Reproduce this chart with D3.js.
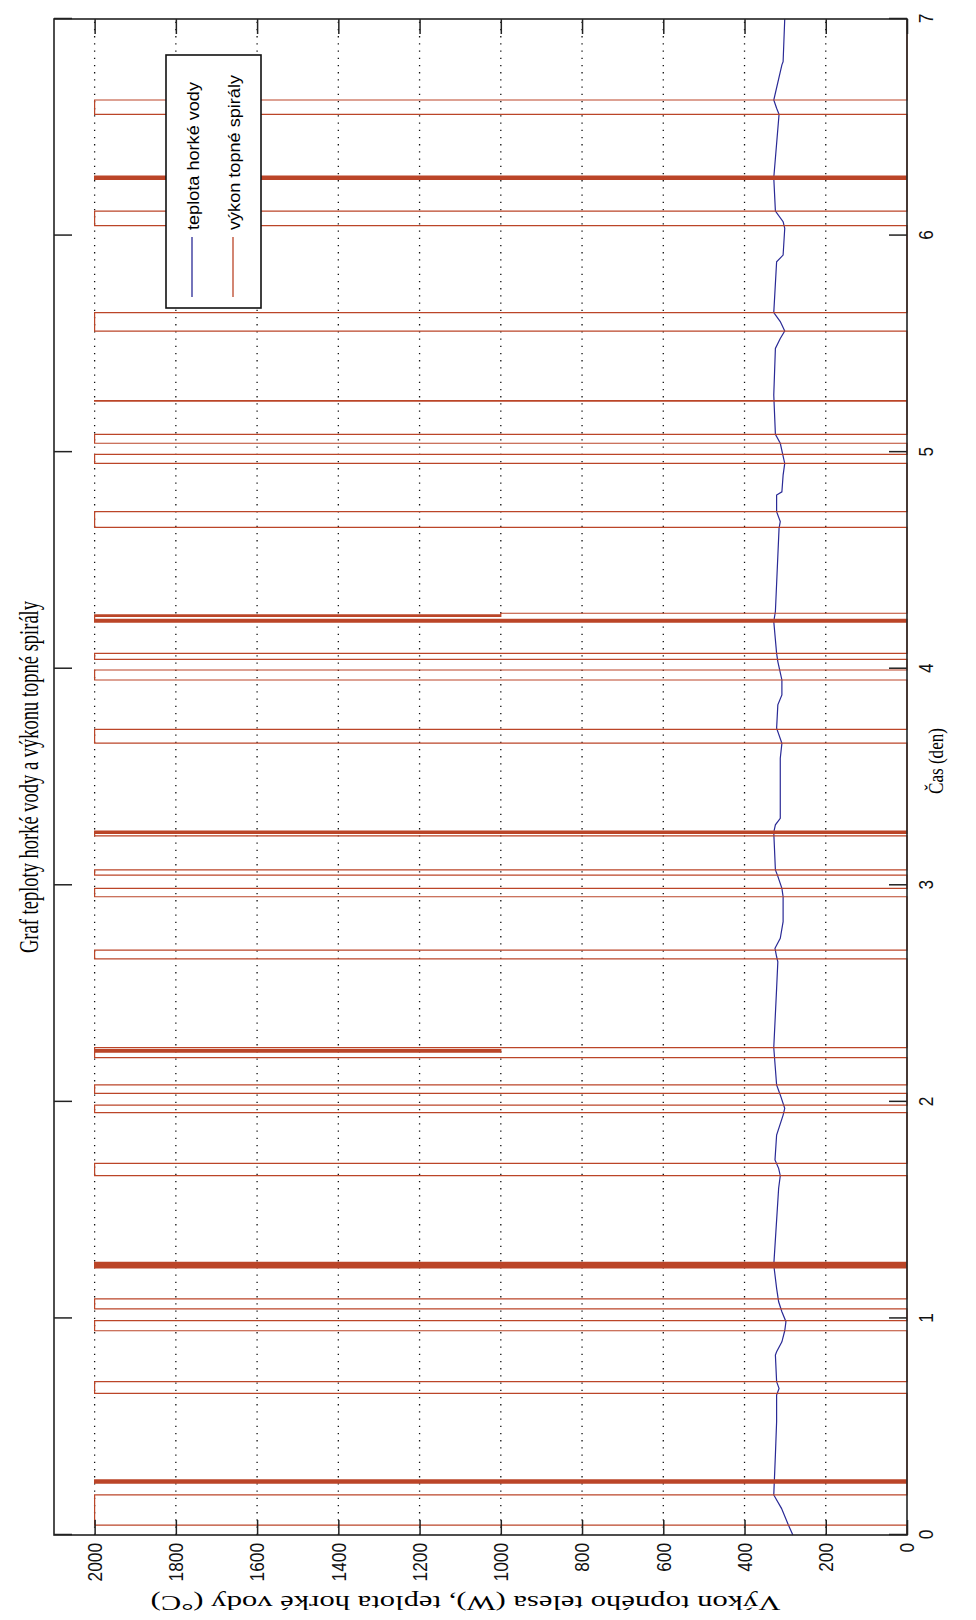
<!DOCTYPE html>
<html>
<head>
<meta charset="utf-8">
<script src="https://cdn.jsdelivr.net/npm/d3@7/dist/d3.min.js"></script>
<style>
  body { margin: 0; background: #fff; }
</style>
</head>
<body>
<div class="chart"></div>
<script>
//Chart values.
var timeTicks = [0, 1, 2, 3, 4, 5, 6, 7];
var valueTicks = [0, 200, 400, 600, 800, 1000, 1200, 1400, 1600, 1800, 2000];

var tempDays = [0, 0.046, 0.123, 0.185, 0.37, 0.523, 0.646, 0.677, 0.708, 0.831, 0.846, 0.892, 0.943, 0.985,
  1.031, 1.077, 1.139, 1.247, 1.601, 1.659, 1.693, 1.732, 1.847, 1.939, 1.97, 2.032, 2.078, 2.25, 2.524,
  2.647, 2.67, 2.709, 2.755, 2.832, 2.947, 2.986, 3.047, 3.071, 3.245, 3.279, 3.309, 3.509, 3.587, 3.656,
  3.725, 3.833, 3.879, 3.948, 4.033, 4.071, 4.218, 4.264, 4.648, 4.679, 4.725, 4.802, 4.817, 4.894, 4.948,
  5.041, 5.082, 5.264, 5.479, 5.525, 5.559, 5.603, 5.644, 5.879, 5.91, 6.033, 6.064, 6.113, 6.267, 6.56,
  6.588, 6.626, 6.788, 6.803, 7.0];
var tempValues = [281, 292, 309, 328, 324, 321, 321, 315, 321, 324, 321, 308, 301, 298,
  308, 316, 321, 328, 316, 312, 316, 325, 321, 305, 301, 312, 321, 328, 321,
  318, 321, 325, 312, 305, 305, 308, 319, 324, 328, 324, 312, 312, 312, 308,
  321, 318, 308, 308, 318, 321, 328, 324, 315, 312, 321, 321, 308, 305, 301,
  312, 324, 328, 324, 312, 301, 312, 328, 321, 305, 301, 305, 324, 328, 315,
  321, 328, 308, 305, 301];

//Heater power, a step signal (value holds until the next time).
var powerDays = [0, 0.046, 0.185,
  0.239, 0.2415, 0.244, 0.2465, 0.249, 0.2515, 0.254, 0.2545,
  0.654, 0.708, 0.943, 0.99, 1.044, 1.09,
  1.233, 1.2355, 1.238, 1.2405, 1.243, 1.2455, 1.248, 1.2505, 1.253, 1.2555, 1.258, 1.2595,
  1.659, 1.716, 1.95, 1.985, 2.039, 2.078,
  2.204, 2.229, 2.2315, 2.234, 2.2365, 2.239, 2.241, 2.25,
  2.66, 2.701, 2.947, 2.986, 3.047, 3.071,
  3.228, 3.24, 3.2425, 3.245, 3.2475, 3.25,
  3.656, 3.72, 3.948, 3.994, 4.043, 4.071,
  4.215, 4.2175, 4.22, 4.2225, 4.225, 4.2275, 4.228, 4.242, 4.2445, 4.247, 4.2485, 4.249, 4.256,
  4.653, 4.725, 4.948, 4.99, 5.041, 5.082, 5.236, 5.238,
  5.559, 5.644, 6.046, 6.113,
  6.259, 6.2615, 6.264, 6.2665, 6.269, 6.2715, 6.274, 6.275,
  6.56, 6.626, 7.0];
var powerValues = [0, 2000, 0,
  2000, 0, 2000, 0, 2000, 0, 2000, 0,
  2000, 0, 2000, 0, 2000, 0,
  2000, 0, 2000, 0, 2000, 0, 2000, 0, 2000, 0, 2000, 0,
  2000, 0, 2000, 0, 2000, 0,
  2000, 1000, 2000, 1000, 2000, 1000, 2000, 0,
  2000, 0, 2000, 0, 2000, 0,
  2000, 0, 2000, 0, 2000, 0,
  2000, 0, 2000, 0, 2000, 0,
  2000, 0, 2000, 0, 2000, 0, 2000, 1000, 2000, 1000, 2000, 1000, 0,
  2000, 0, 2000, 0, 2000, 0, 2000, 0,
  2000, 0, 2000, 0,
  2000, 0, 2000, 0, 2000, 0, 2000, 0,
  2000, 0, 0];

var titleText = "Graf teploty horké vody a výkonu topné spirály";
var xLabelText = "Čas (den)";
var yLabelText = "Výkon topného telesa (W),  teplota horké vody (°C)";
var legendLabels = ["teplota horké vody", "výkon topné spirály"];

//SVG area, the plot is drawn upright and then turned a quarter to the left.
var svgWidth = 976;
var svgHeight = 1620;
var boxLeft = 54, boxRight = 907, boxTop = 19, boxBottom = 1535;
var chartWidth = boxBottom - boxTop;   // time axis length
var chartHeight = boxRight - boxLeft;  // value axis length

var svg = d3.select(".chart")
  .append("svg")
  .attr("width", svgWidth)
  .attr("height", svgHeight)
  .style("background", "#fff");

var chart = svg.append("g")
  .attr("transform", "translate(" + boxLeft + "," + boxBottom + ") rotate(-90)");

var xScale = d3.scaleLinear().domain([0, 7]).range([0, chartWidth]);
var yScale = d3.scaleLinear().domain([0, 2100]).range([chartHeight, 0]);

var sans = "Liberation Sans, Arial, sans-serif";
var serif = "Liberation Serif, Times New Roman, serif";

//Dotted grid on the value ticks.
chart.append("g")
  .selectAll("line")
  .data(valueTicks.filter(function(d) { return d > 0; }))
  .enter().append("line")
  .attr("x1", 0)
  .attr("x2", chartWidth)
  .attr("y1", function(d) { return yScale(d); })
  .attr("y2", function(d) { return yScale(d); })
  .attr("stroke", "#111")
  .attr("stroke-width", 1.3)
  .attr("stroke-dasharray", "1.3,5.9");

//Temperature line.
var tempLine = d3.line()
  .x(function(d, i) { return xScale(tempDays[i]); })
  .y(function(d) { return yScale(d); });

chart.append("path")
  .attr("d", tempLine(tempValues))
  .attr("fill", "none")
  .attr("stroke", "#2a2a96")
  .attr("stroke-width", 1.2);

//Heater power line.
var powerLine = d3.line()
  .curve(d3.curveStepAfter)
  .x(function(d, i) { return xScale(powerDays[i]); })
  .y(function(d) { return yScale(d); });

chart.append("path")
  .attr("d", powerLine(powerValues))
  .attr("fill", "none")
  .attr("stroke", "#bb4528")
  .attr("stroke-width", 1.2);

//Axes with inward ticks on all four sides.
function styleAxis(g) {
  g.select(".domain").remove();
  g.selectAll(".tick line").attr("stroke", "#222").attr("stroke-width", 1.5);
  g.selectAll(".tick text")
    .attr("fill", "#111")
    .style("font-family", sans)
    .style("font-size", "21px")
    .attr("lengthAdjust", "spacingAndGlyphs")
    .attr("textLength", function() { return this.textContent.length * 9.6; });
}

chart.append("g")
  .attr("transform", "translate(0," + chartHeight + ")")
  .call(d3.axisBottom(xScale).tickValues(timeTicks).tickSizeInner(-18).tickSizeOuter(0)
    .tickPadding(11).tickFormat(d3.format("d")))
  .call(styleAxis);

chart.append("g")
  .call(d3.axisTop(xScale).tickValues(timeTicks).tickSizeInner(-18).tickSizeOuter(0).tickFormat(""))
  .call(styleAxis);

chart.append("g")
  .call(d3.axisLeft(yScale).tickValues(valueTicks).tickSizeInner(-15).tickSizeOuter(0)
    .tickPadding(8).tickFormat(d3.format("d")))
  .call(styleAxis);

chart.append("g")
  .attr("transform", "translate(" + chartWidth + ",0)")
  .call(d3.axisRight(yScale).tickValues(valueTicks).tickSizeInner(-15).tickSizeOuter(0).tickFormat(""))
  .call(styleAxis);

chart.append("rect")
  .attr("width", chartWidth)
  .attr("height", chartHeight)
  .attr("fill", "none")
  .attr("stroke", "#222")
  .attr("stroke-width", 1.6);

//Title and axis labels.
chart.append("text")
  .attr("x", chartWidth / 2)
  .attr("y", -16)
  .attr("text-anchor", "middle")
  .style("font-family", serif)
  .style("font-size", "28px")
  .attr("textLength", 352)
  .attr("lengthAdjust", "spacingAndGlyphs")
  .text(titleText);

chart.append("text")
  .attr("x", chartWidth / 2 + 16)
  .attr("y", chartHeight + 36)
  .attr("text-anchor", "middle")
  .style("font-family", serif)
  .style("font-size", "22px")
  .attr("textLength", 66)
  .attr("lengthAdjust", "spacingAndGlyphs")
  .text(xLabelText);

chart.append("text")
  .attr("transform", "translate(-61," + (chartHeight / 2 - 15) + ") rotate(-90)")
  .attr("text-anchor", "middle")
  .style("font-family", serif)
  .style("font-size", "20px")
  .attr("textLength", 630)
  .attr("lengthAdjust", "spacingAndGlyphs")
  .text(yLabelText);

//Legend box in the upper right of the upright plot.
var legend = chart.append("g").attr("transform", "translate(1227,112)");

legend.append("rect")
  .attr("width", 253)
  .attr("height", 95)
  .attr("fill", "#fff")
  .attr("stroke", "#111")
  .attr("stroke-width", 1.6);

var legendColors = ["#2a2a96", "#bb4528"];
var legendLengths = [148, 155];

legendLabels.forEach(function(label, i) {
  var row = legend.append("g").attr("transform", "translate(0," + (26 + i * 41) + ")");
  row.append("line")
    .attr("x1", 11).attr("x2", 71)
    .attr("y1", 0).attr("y2", 0)
    .attr("stroke", legendColors[i])
    .attr("stroke-width", 1.3);
  row.append("text")
    .attr("x", 78)
    .attr("y", 7)
    .style("font-family", sans)
    .style("font-size", "16px")
    .attr("textLength", legendLengths[i])
    .attr("lengthAdjust", "spacingAndGlyphs")
    .text(label);
});
</script>
</body>
</html>
